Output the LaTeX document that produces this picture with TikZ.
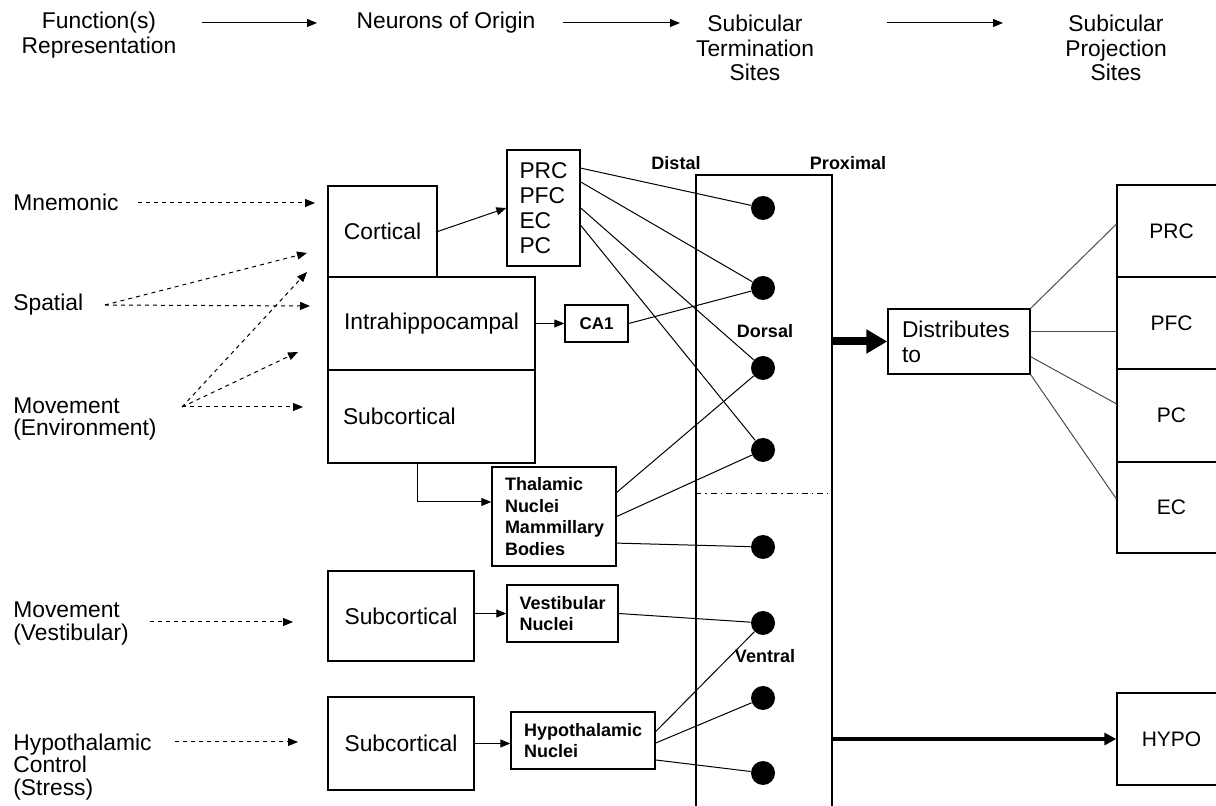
\documentclass[tikz,border=0pt]{standalone}
\usepackage{fontspec}
\setmainfont{Liberation Sans}
\usepackage{tikz}
\usetikzlibrary{arrows.meta, calc}
\tikzset{
  heading/.style={font=\fontsize{11.4}{12.4}\selectfont, align=center, inner sep=0pt},
  func/.style={font=\fontsize{11.4}{11.2}\selectfont, align=left, inner sep=0pt, anchor=west},
  region/.style={rectangle, draw=black, line width=0.7pt, inner sep=0pt, font=\fontsize{11.4}{12.5}\selectfont},
  nuclei/.style={region, align=left, font=\bfseries\fontsize{9}{10.7}\selectfont},
  target/.style={region, font=\fontsize{10.5}{12}\selectfont},
  site/.style={circle, fill=black, minimum size=12pt, inner sep=0pt},
  tag/.style={font=\bfseries\fontsize{9}{10}\selectfont, inner sep=0pt},
  arrow/.style={line width=0.5pt, -{Triangle[length=5pt,width=4pt]}},
  dasharrow/.style={arrow, dash pattern=on 2pt off 2pt},
  link/.style={line width=0.5pt},
  fan/.style={line width=0.5pt, draw=black!70},
  bigarrow/.style={line width=4pt, -{Triangle[length=10.5pt,width=11.5pt]}}
}

\begin{document}
\begin{tikzpicture}[x=0.5pt, y=-0.5pt]
\useasboundingbox (0,0) rectangle (1216,806);

% Header row
\node[heading] (hfunc) at (99,35.5) {Function(s)\\Representation};
\node[heading] (hneur) at (446,23) {Neurons of Origin};
\node[heading] (hterm) at (755,48) {Subicular\\Termination\\Sites};
\node[heading] (hproj) at (1116,48) {Subicular\\Projection\\Sites};
\coordinate (h1a) at (202,23); \coordinate (h1b) at (317,23);
\coordinate (h2a) at (563,23); \coordinate (h2b) at (680,23);
\coordinate (h3a) at (887,23); \coordinate (h3b) at (1003,23);
\draw[arrow] (h1a) -- (h1b);
\draw[arrow] (h2a) -- (h2b);
\draw[arrow] (h3a) -- (h3b);

% Functions
\node[func] (mnem) at (13,202) {Mnemonic};
\node[func] (spat) at (13,305) {Spatial};
\node[func] (movenv) at (13,419) {Movement\\(Environment)};
\node[func] (movvest) at (13,623.5) {Movement\\(Vestibular)};
\node[func] (hypctl) at (13,767) {Hypothalamic\\Control\\(Stress)};

% Neurons of origin
\node[region, minimum width=54.5pt, minimum height=45.5pt] (cort) at (382.5,231.5) {Cortical};
\node[region, minimum width=103.5pt, minimum height=46.5pt] (intra) at (431.5,323.5) {Intrahippocampal};
\node[region, minimum width=103.5pt, minimum height=46.5pt, text width=88.5pt, align=left] (subA) at (431.5,416.5) {Subcortical};
\node[region, minimum width=73pt, minimum height=45pt] (subB) at (401,616) {Subcortical};
\node[region, minimum width=73pt, minimum height=46.5pt] (subC) at (401,743.5) {Subcortical};

\node[region, minimum width=36.5pt, minimum height=58pt, text width=24pt, align=left] (origin) at (543.5,208) {PRC\\PFC\\EC\\PC};
\node[region, minimum width=31.5pt, minimum height=18.5pt, font=\bfseries\fontsize{8.5}{10}\selectfont] (ca1) at (596.5,323.5) {CA1};
\node[nuclei, minimum width=62pt, minimum height=49.5pt, text width=49pt] (thal) at (554,516.5) {Thalamic\\Nuclei\\Mammillary\\Bodies};
\node[nuclei, minimum width=55.5pt, minimum height=28.5pt, text width=43pt] (vest) at (562.5,613.5) {Vestibular\\Nuclei};
\node[nuclei, minimum width=72pt, minimum height=28.5pt, text width=59pt] (hyn) at (583,740.5) {Hypothalamic\\Nuclei};

% Dashed inputs
\coordinate (mnemS) at (138,203); \coordinate (mnemT) at (315,203);
\coordinate (spatS) at (105,305); \coordinate (spatT1) at (307,253); \coordinate (spatT2) at (310,306);
\coordinate (movS) at (182,407); \coordinate (movT1) at (307,272); \coordinate (movT2) at (298,352); \coordinate (movT3) at (303,407);
\coordinate (vestS) at (150,622); \coordinate (vestT) at (293,622);
\coordinate (hypS) at (175,742); \coordinate (hypT) at (298,742);
\draw[dasharrow] (mnemS) -- (mnemT);
\draw[dasharrow] (spatS) -- (spatT1);
\draw[dasharrow] (spatS) -- (spatT2);
\draw[dasharrow] (movS) -- (movT1);
\draw[dasharrow] (movS) -- (movT2);
\draw[dasharrow] (movS) -- (movT3);
\draw[dasharrow] (vestS) -- (vestT);
\draw[dasharrow] (hypS) -- (hypT);

% Origin to relay
\coordinate (elbow) at (417,502);
\draw[arrow] (cort.east) -- (origin.west);
\draw[arrow] (intra.east) -- (ca1.west);
\draw[arrow] (subA.south -| elbow) |- (thal.west |- elbow);
\draw[arrow] (subB.east |- vest.west) -- (vest.west);
\draw[arrow] (subC.east) -- (subC.east -| hyn.west);

% Subiculum column
\node[rectangle, draw=black, line width=0.7pt, minimum width=68pt, minimum height=322.5pt] (col) at (764,497.5) {};
\coordinate (split) at (764,493);
\draw[line width=0.4pt, dash pattern=on 3pt off 2pt on 0.6pt off 2pt] (col.west |- split) -- (col.east |- split);
\node[tag] (distal) at (676,163) {Distal};
\node[tag] (proximal) at (848,163) {Proximal};
\node[tag] (dorsal) at (765,331) {Dorsal};
\node[tag] (ventral) at (765,656) {Ventral};

% Termination sites
\foreach \n/\y in {1/208, 2/288, 3/368, 4/450, 5/547, 6/623, 7/698, 8/773}
  \node[site] (d\n) at (763,\y) {};

\draw[link] (origin.47) -- (d1);
\draw[link] (origin.35) -- (d2);
\draw[link] (origin.east) -- (d3);
\draw[link] (origin.-25) -- (d4);
\draw[link] (ca1.east) -- (d2);
\draw[link] (thal.21) -- (d3);
\draw[link] (thal.east) -- (d4);
\draw[link] (thal.-23) -- (d5);
\draw[link] (vest.east) -- (d6);
\draw[link] (hyn.7) -- (d6);
\draw[link] (hyn.-2) -- (d7);
\draw[link] (hyn.-15) -- (d8);

% Projection sites
\node[region, minimum width=71pt, minimum height=32.5pt, text width=57pt, align=left] (dist) at (959,341.5) {Distributes\\to};
\node[target, minimum width=54.5pt, minimum height=46pt] (prc) at (1171.5,231) {PRC};
\node[target, minimum width=54.5pt, minimum height=46pt] (pfc) at (1171.5,323) {PFC};
\node[target, minimum width=54.5pt, minimum height=46.5pt] (pc) at (1171.5,415.5) {PC};
\node[target, minimum width=54.5pt, minimum height=45.5pt] (ec) at (1171.5,507.5) {EC};
\node[target, minimum width=54.5pt, minimum height=46pt] (hypo) at (1171.5,739) {HYPO};

\draw[bigarrow] (col.east |- dist.west) -- (dist.west);
\draw[line width=2pt, -{Triangle[length=6pt,width=6pt]}] (col.east |- hypo.west) -- (hypo.west);
\draw[fan] (dist.north east) -- (prc.173);
\draw[fan] (dist.8) -- (dist.8 -| pfc.west);
\draw[fan] (dist.-12) -- (pc.168);
\draw[fan] (dist.south east) -- (ec.171);
\end{tikzpicture}
\end{document}
